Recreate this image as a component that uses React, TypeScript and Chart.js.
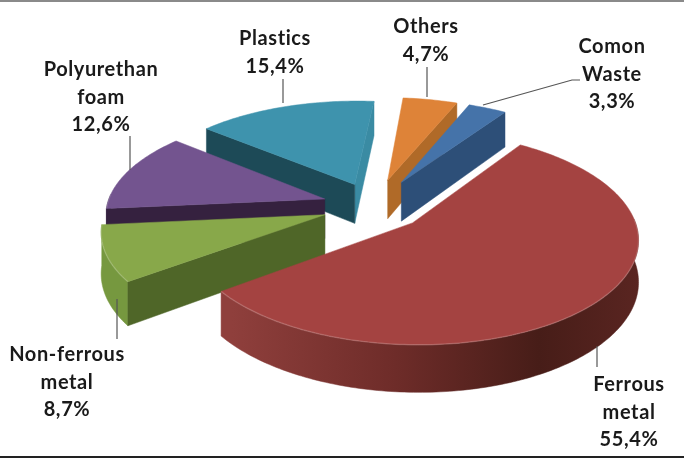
import React, { useEffect, useRef } from "react";
import { Chart, registerables } from "chart.js";

Chart.register(...registerables);

const categories = ["Ferrous metal", "Non-ferrous metal", "Polyurethan foam", "Plastics", "Others", "Comon Waste"];
const shares = [55.4, 8.7, 12.6, 15.4, 4.7, 3.3];

const explosion = [52, 52, 52, 52, 60, 60];
const topColors = ["#a44341", "#88a84a", "#73548f", "#3e93ad", "#de8338", "#4573a9"];
const startWall = ["#6e2c29", "#4f6628", "#35213f", "#1d4a57", "#b06a28", "#2d4f78"];
const endWall = ["#6e2c29", "#4f6628", "#35213f", "#3a8ba3", "#b06a28", "#2d4f78"];
const outerWall = ["#6e2c29", "#76983f", "#35213f", "#1d4a57", "#b06a28", "#2d4f78"];
const paintOrder = [3, 4, 5, 2, 1, 0];

const labelLayout = [
  { x: 629, y: 385, leader: [[597, 346], [597, 367]] },
  { x: 67, y: 355, leader: [[117, 299], [117, 339]] },
  { x: 101, y: 70, leader: [[130, 136], [130, 170]] },
  { x: 275, y: 39, leader: [[283, 79], [283, 103]] },
  { x: 426, y: 27, leader: [[427, 67], [427, 97]] },
  { x: 612, y: 47, leader: [[483, 105], [572, 80], [580, 80]] },
];

const TILT = 0.46;
const FOCAL = 1600;
const DEPTH = 40;
const LINE_H = 27.5;

const pie3d = {
  id: "pie3d",
  beforeDraw(chart: any) {
    const { ctx } = chart;
    ctx.save();
    ctx.fillStyle = "#ffffff";
    ctx.fillRect(0, 0, chart.width, chart.height);
    ctx.fillStyle = "#8a8a8a";
    ctx.fillRect(0, 0, 684, 2);
    ctx.fillStyle = "#222222";
    ctx.fillRect(0, 456, 684, 2);
    ctx.restore();
  },
  beforeDatasetsDraw(chart: any) {
    const { ctx } = chart;
    const arcs = chart.getDatasetMeta(0).data;
    for (const i of paintOrder) {
      const el = arcs[i];
      const R = el.outerRadius;
      const e = el.options.offset || 0;
      const mid = (el.startAngle + el.endAngle) / 2;
      const ox = Math.cos(mid) * e;
      const oy = Math.sin(mid) * e;
      const proj = (X: number, Y: number, z: number) => {
        const p = 1 / (1 - Y / FOCAL);
        return [el.x + X * p, el.y + (Y * TILT + z) * p];
      };
      const apex = (z: number) => proj(ox, oy, z);
      const rim = (a: number, z: number) => proj(ox + Math.cos(a) * R, oy + Math.sin(a) * R, z);
      const steps = Math.max(6, Math.round(((el.endAngle - el.startAngle) * 180) / Math.PI));
      const angles: number[] = [];
      for (let s = 0; s <= steps; s++) angles.push(el.startAngle + ((el.endAngle - el.startAngle) * s) / steps);

      const fillPoly = (pts: number[][], fill: any) => {
        ctx.beginPath();
        pts.forEach((q, n) => (n ? ctx.lineTo(q[0], q[1]) : ctx.moveTo(q[0], q[1])));
        ctx.closePath();
        ctx.fillStyle = fill;
        ctx.fill();
        ctx.strokeStyle = fill;
        ctx.lineWidth = 0.5;
        ctx.stroke();
      };

      const a0 = angles[0];
      const a1 = angles[angles.length - 1];

      // outer wall: only the part that faces the viewer
      const front = angles.filter((a) => Math.sin(a) > -0.05);
      if (front.length > 1) {
        let wallFill: any = outerWall[i];
        if (i === 0) {
          const g = ctx.createLinearGradient(232, 0, 641, 0);
          g.addColorStop(0, "#8f3f3c");
          g.addColorStop(0.4, "#6e2c29");
          g.addColorStop(0.75, "#471d18");
          g.addColorStop(1, "#5a2521");
          wallFill = g;
        }
        fillPoly([...front.map((a) => rim(a, 0)), ...front.slice().reverse().map((a) => rim(a, DEPTH))], wallFill);
      }
      // cut walls: only those that face the viewer
      if (Math.cos(a1) > 0) fillPoly([apex(0), rim(a1, 0), rim(a1, DEPTH), apex(DEPTH)], endWall[i]);
      if (-Math.cos(a0) > 0) fillPoly([apex(0), rim(a0, 0), rim(a0, DEPTH), apex(DEPTH)], startWall[i]);

      // top
      fillPoly([apex(0), ...angles.map((a) => rim(a, 0))], el.options.backgroundColor);

      // rim highlight
      ctx.beginPath();
      front.forEach((a, n) => {
        const q = rim(a, 0);
        if (n) ctx.lineTo(q[0], q[1]);
        else ctx.moveTo(q[0], q[1]);
      });
      ctx.strokeStyle = "rgba(255,255,255,0.16)";
      ctx.lineWidth = 1.5;
      ctx.stroke();
    }
    return false;
  },
  afterDraw(chart: any) {
    const { ctx } = chart;
    ctx.save();
    ctx.font = 'bold 20px "Lato"';
    (ctx as any).letterSpacing = "0.6px";
    ctx.textAlign = "center";
    ctx.textBaseline = "middle";
    ctx.fillStyle = "#1a1a1a";
    labelLayout.forEach((l, i) => {
      const lines = [...categories[i].split(" "), shares[i].toFixed(1).replace(".", ",") + "%"];
      lines.forEach((t, n) => ctx.fillText(t, l.x, l.y + n * LINE_H));
      ctx.beginPath();
      l.leader.forEach((q, n) => (n ? ctx.lineTo(q[0], q[1]) : ctx.moveTo(q[0], q[1])));
      ctx.strokeStyle = "#555555";
      ctx.lineWidth = 1.2;
      ctx.stroke();
    });
    ctx.restore();
  },
};

export default function App() {
  const ref = useRef<HTMLCanvasElement>(null);
  useEffect(() => {
    const chart = new Chart(ref.current as HTMLCanvasElement, {
      type: "pie",
      data: {
        labels: categories,
        datasets: [{ data: shares, backgroundColor: topColors, offset: explosion, borderWidth: 0 }],
      },
      options: {
        animation: false,
        responsive: false,
        rotation: 34,
        radius: 218,
        layout: { padding: { left: 62, bottom: 46 } },
        plugins: { legend: { display: false }, tooltip: { enabled: false } },
      },
      plugins: [pie3d],
    } as any);
    return () => chart.destroy();
  }, []);
  return (
    <div style={{ position: "absolute", left: 0, top: 0, width: 686, height: 458, background: "#fff" }}>
      <canvas ref={ref} width={686} height={458} style={{ display: "block", filter: "blur(0.6px)" }} />
    </div>
  );
}
